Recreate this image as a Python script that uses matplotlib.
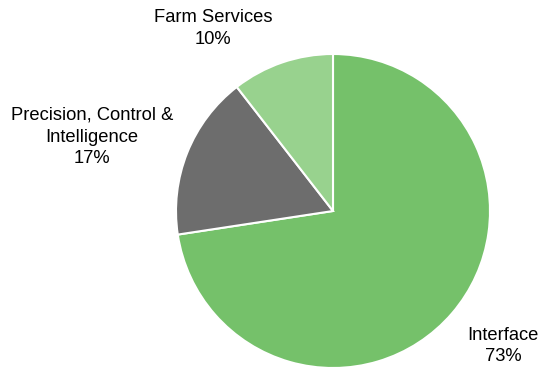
import matplotlib
matplotlib.use("Agg")
import matplotlib.pyplot as plt

categories = ["Interface", "Precision, Control &\nIntelligence", "Farm Services"]
shares = [72.6, 16.9, 10.5]
pct_labels = ["73%", "17%", "10%"]
colors = ["#75C16A", "#6D6D6D", "#98D28E"]

W, H = 541, 367
fig = plt.figure(figsize=(W/100, H/100), dpi=100)
cx, cy, r = 333, 211, 157
ax = fig.add_axes([(cx-r)/W, (H-cy-r)/H, 2*r/W, 2*r/H])
wedges, _ = ax.pie(shares, colors=colors, startangle=90, counterclock=False,
                   radius=1, wedgeprops=dict(edgecolor="white", linewidth=1.5))
for w in wedges:
    w.set_clip_on(False)
ax.set_xlim(-1, 1); ax.set_ylim(-1, 1)
ax.set_aspect("equal")
ax.axis("off")

label_pos = [(1.083, -0.86), (-1.535, 0.471), (-0.764, 1.162)]
for cat, p, (x, y) in zip(categories, pct_labels, label_pos):
    ax.text(x, y, f"{cat}\n{p}", ha="center", va="center", fontsize=13.2,
            family="Liberation Sans", linespacing=1.38, clip_on=False)

fig.savefig("out.png", dpi=100)
